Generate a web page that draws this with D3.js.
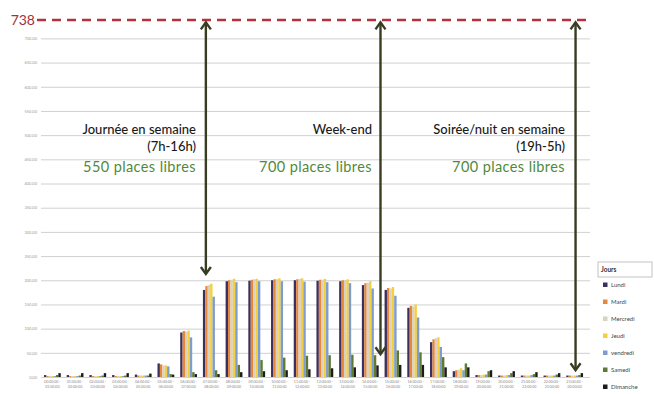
<!DOCTYPE html>
<html>
<head>
<meta charset="utf-8">
<script src="https://cdn.jsdelivr.net/npm/d3@7"></script>
<style>
body { margin: 0; background: #fff; }
svg { display: block; }
</style>
</head>
<body>
<div id="chart"></div>
<script>
"use strict";

// categories
const hours = ["00:00", "01:00", "02:00", "03:00", "04:00", "05:00", "06:00", "07:00",
    "08:00", "09:00", "10:00", "11:00", "12:00", "13:00", "14:00", "15:00",
    "16:00", "17:00", "18:00", "19:00", "20:00", "21:00", "22:00", "23:00"];
const days = ["Lundi", "Mardi", "Mercredi", "Jeudi", "vendredi", "Samedi", "Dimanche"];

// occupied places per hour, one array per day
const lundi    = [4, 4, 4, 4, 5, 28, 92, 180, 198, 199, 200, 200, 199, 198, 190, 180, 143, 72, 12, 4, 3, 3, 3, 3];
const mardi    = [2, 2, 2, 2, 3, 26, 95, 188, 200, 201, 202, 202, 201, 200, 194, 184, 147, 78, 14, 4, 3, 3, 3, 3];
const mercredi = [2, 2, 2, 2, 3, 24, 94, 190, 201, 202, 202, 203, 201, 200, 195, 183, 146, 80, 15, 4, 3, 3, 3, 3];
const jeudi    = [2, 2, 2, 2, 3, 24, 96, 193, 203, 203, 204, 204, 203, 202, 198, 186, 150, 82, 18, 5, 4, 3, 3, 3];
const vendredi = [2, 2, 2, 2, 3, 22, 82, 166, 196, 198, 198, 197, 196, 194, 183, 168, 123, 62, 14, 5, 4, 4, 3, 3];
const samedi   = [4, 3, 3, 3, 3, 6, 10, 14, 25, 35, 40, 44, 45, 46, 45, 55, 51, 41, 28, 12, 8, 6, 5, 4];
const dimanche = [8, 8, 8, 8, 7, 5, 6, 6, 10, 12, 14, 16, 18, 20, 24, 25, 25, 20, 20, 14, 12, 10, 8, 8];

const yTicks = [0, 50, 100, 150, 200, 250, 300, 350, 400, 450, 500, 550, 600, 650, 700];
const maxPlaces = 738;

// annotations: arrow position (in hour slots), bottom of arrow, texts
const arrowHour = [6.76, 14.45, 23.04];
const arrowBottom = [213, 47, 14];
const arrowTop = 733;
const periodLabels = [["Journée en semaine", "(7h-16h)"], ["Week-end"], ["Soirée/nuit en semaine", "(19h-5h)"]];
const freeLabels = ["550 places libres", "700 places libres", "700 places libres"];
const labelRight = [196, 372, 565];

const colors = ["#3b3160", "#e8873a", "#d8d1c4", "#f4d03f", "#7f9ccf", "#5e7a33", "#1c1c1c"];

const msm = {
    width: 654,
    height: 394,
    left: 41,
    right: 586,
    top: 20,
    bottom: 377
}

window.onload = function () {
    let svg = d3.select("#chart")
        .append("svg")
        .attr("width", msm.width)
        .attr("height", msm.height);

    let series = [lundi, mardi, mercredi, jeudi, vendredi, samedi, dimanche];
    let rows = hours.map((h, i) => ({ hour: h, values: days.map((d, j) => ({ day: d, value: series[j][i] })) }));

    let y = d3.scaleLinear().domain([0, maxPlaces]).range([msm.bottom, msm.top]);
    let x = d3.scaleBand().domain(hours).range([msm.left, msm.right]).paddingInner(0.26).paddingOuter(0.13);
    let x1 = d3.scaleBand().domain(days).range([0, x.bandwidth()]);
    let color = d3.scaleOrdinal().domain(days).range(colors);

    // gridlines + tick labels
    let yAxis = d3.axisLeft(y).tickValues(yTicks)
        .tickSize(-(msm.right - msm.left + 4))
        .tickFormat(d => d + ",00");
    let ga = svg.append("g")
        .attr("transform", "translate(" + msm.left + ",0)")
        .call(yAxis);
    ga.select(".domain").remove();
    ga.selectAll(".tick line").attr("stroke", "#d0d0d0").attr("stroke-width", 1);
    ga.selectAll(".tick text")
        .attr("x", -4)
        .attr("fill", "#9a9a9a")
        .style("font-family", "Lato, sans-serif")
        .style("font-size", "4px");

    // bars
    let groups = svg.selectAll(".grp")
        .data(rows)
        .enter()
        .append("g")
        .attr("transform", d => "translate(" + x(d.hour) + ",0)");
    groups.selectAll("rect")
        .data(d => d.values)
        .enter()
        .append("rect")
        .attr("x", d => x1(d.day))
        .attr("width", x1.bandwidth())
        .attr("y", d => y(d.value))
        .attr("height", d => y(0) - y(d.value))
        .attr("fill", d => color(d.day));

    // x labels, two tiny lines
    let xl = svg.selectAll(".xl")
        .data(hours)
        .enter()
        .append("text")
        .attr("text-anchor", "middle")
        .attr("fill", "#8a8a8a")
        .style("font-family", "Lato, sans-serif")
        .style("font-size", "3.6px");
    xl.append("tspan")
        .attr("x", d => x(d) + x.bandwidth() / 2)
        .attr("y", msm.bottom + 6)
        .text(d => d + ":00 -");
    xl.append("tspan")
        .attr("x", d => x(d) + x.bandwidth() / 2)
        .attr("y", msm.bottom + 11)
        .text((d, i) => hours[(i + 1) % hours.length] + ":00");

    // capacity line
    svg.append("line")
        .attr("x1", msm.left - 4)
        .attr("x2", msm.right + 6)
        .attr("y1", y(maxPlaces))
        .attr("y2", y(maxPlaces))
        .attr("stroke", "#b3323d")
        .attr("stroke-width", 2.5)
        .attr("stroke-dasharray", "9,6");
    svg.append("text")
        .attr("x", 35)
        .attr("y", y(maxPlaces) + 5)
        .attr("text-anchor", "end")
        .attr("fill", "#a3303a")
        .style("font-family", "Lato, sans-serif")
        .style("font-size", "14px")
        .text(maxPlaces);

    // double arrows
    let cx = h => x(hours[0]) + x.bandwidth() / 2 + h * x.step();
    let arrowColor = "#383d22";
    arrowHour.forEach((h, i) => {
        let ax = cx(h), yt = y(arrowTop), yb = y(arrowBottom[i]);
        svg.append("line")
            .attr("x1", ax).attr("x2", ax)
            .attr("y1", yt).attr("y2", yb)
            .attr("stroke", arrowColor)
            .attr("stroke-width", 2.4);
        svg.append("path")
            .attr("d", "M" + (ax - 5) + "," + (yt + 7) + "L" + ax + "," + yt + "L" + (ax + 5) + "," + (yt + 7))
            .attr("fill", "none").attr("stroke", arrowColor).attr("stroke-width", 2.4);
        svg.append("path")
            .attr("d", "M" + (ax - 5) + "," + (yb - 7) + "L" + ax + "," + yb + "L" + (ax + 5) + "," + (yb - 7))
            .attr("fill", "none").attr("stroke", arrowColor).attr("stroke-width", 2.4);
    });

    // period texts
    periodLabels.forEach((lines, i) => {
        lines.forEach((t, k) => {
            svg.append("text")
                .attr("x", labelRight[i])
                .attr("y", 134 + k * 17)
                .attr("text-anchor", "end")
                .attr("fill", "#1a1a1a")
                .style("font-family", "Lato, sans-serif")
                .style("font-size", "13px")
                .style("font-weight", "500")
                .text(t);
        });
        svg.append("text")
            .attr("x", labelRight[i])
            .attr("y", 172)
            .attr("text-anchor", "end")
            .attr("fill", "#4f8a3b")
            .style("font-family", "Lato, sans-serif")
            .style("font-size", "14.5px")
            .style("letter-spacing", "0.4px")
            .text(freeLabels[i]);
    });

    // legend
    let lg = svg.append("g").attr("transform", "translate(598,262)");
    lg.append("rect")
        .attr("x", 0).attr("y", 0)
        .attr("width", 54).attr("height", 15)
        .attr("fill", "#fff")
        .attr("stroke", "#b5b5b5")
        .attr("stroke-width", 0.8);
    lg.append("text")
        .attr("x", 3).attr("y", 10)
        .attr("fill", "#333")
        .style("font-family", "Lato, sans-serif")
        .style("font-size", "6.5px")
        .style("font-weight", "bold")
        .text("Jours");
    let items = lg.selectAll(".item")
        .data(days)
        .enter()
        .append("g")
        .attr("transform", (d, i) => "translate(0," + (23 + i * 17) + ")");
    items.append("rect")
        .attr("x", 5).attr("y", -2.5)
        .attr("width", 4.5).attr("height", 4.5)
        .attr("fill", d => color(d));
    items.append("text")
        .attr("x", 13).attr("y", 2)
        .attr("fill", "#444")
        .style("font-family", "Lato, sans-serif")
        .style("font-size", "6px")
        .text(d => d);
}
</script>
</body>
</html>
